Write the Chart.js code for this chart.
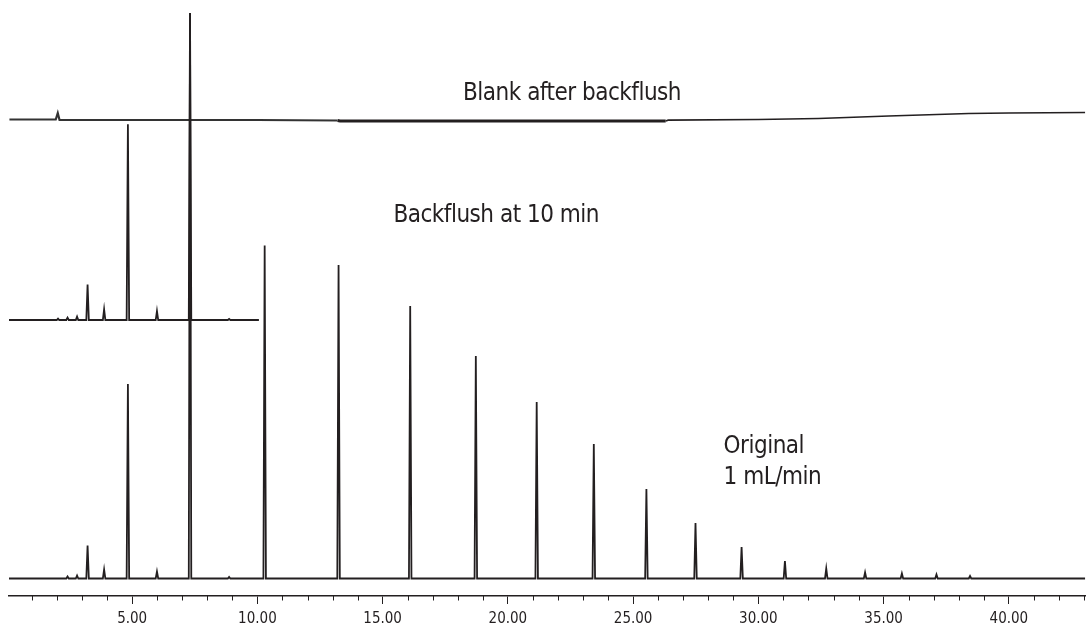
<!DOCTYPE html>
<html>
<head>
<meta charset="utf-8">
<script src="https://cdn.jsdelivr.net/npm/chart.js@4.4.1/dist/chart.umd.min.js"></script>
<style>
  html, body { margin: 0; padding: 0; background: #ffffff; }
  #wrap { position: relative; width: 1090px; height: 629px; }
</style>
</head>
<body>
<div id="wrap"><canvas id="c"></canvas></div>
<script>
// ---- Data (retention time in min, peak height in detector units) ----
const originalTimes   = [2.42, 2.80, 3.22, 3.88, 4.83, 5.99, 7.31, 8.87, 10.29, 13.24, 16.10, 18.72, 21.15, 23.43, 25.53, 27.49, 29.33, 31.06, 32.71, 34.26, 35.73, 37.11, 38.45];
const originalHeights = [2, 3, 33, 9, 194.5, 7, 565.5, 1.5, 333, 313.5, 272.5, 222.5, 176.5, 134.5, 89.5, 55.5, 31.5, 17.5, 10, 6, 5, 4, 2.5];

const backflushTimes   = [2.04, 2.42, 2.80, 3.22, 3.88, 4.83, 5.99, 7.31, 8.87];
const backflushHeights = [1.4, 2.4, 3.4, 35.5, 10.7, 195.7, 9, 307, 1];
const backflushEnd = 10.06;

const blankTimes  = [0.10, 1.95, 2.03, 2.10, 5.0, 10.0, 13.2, 13.3, 26.3, 26.4, 30.0, 32.4, 35.2, 38.4, 40.0, 43.05];
const blankValues = [1.5, 1.5, 8, 1, 1, 1, 0.5, 0, 0, 0.8, 1.5, 2.5, 5, 7.5, 8, 8.5];

// vertical offsets of the stacked traces
const backflushOffset = 258.5;
const blankOffset = 457.5;

// axis
const xMin = 0.083, xMax = 43.05;
const majorTicks = [5, 10, 15, 20, 25, 30, 35, 40];

const traceLabels = [
  { text: 'Blank after backflush', t: 18.21, v: 478.5 },
  { text: 'Backflush at 10 min',   t: 15.43, v: 356.8 },
  { text: 'Original',              t: 28.61, v: 125.8 },
  { text: '1 mL/min',              t: 28.61, v: 95.0 }
];

// ---- build traces from peak tables ----
const HW = 0.05; // half width of a peak (min)
function buildTrace(times, heights, start, end, offset) {
  const pts = [{ x: start, y: offset }];
  for (let i = 0; i < times.length; i++) {
    pts.push({ x: times[i] - HW, y: offset });
    pts.push({ x: times[i], y: offset + heights[i] });
    pts.push({ x: times[i] + HW, y: offset });
  }
  pts.push({ x: end, y: offset });
  return pts;
}
const originalData  = buildTrace(originalTimes, originalHeights, xMin, xMax, 0);
const backflushData = buildTrace(backflushTimes, backflushHeights, xMin, backflushEnd, backflushOffset);
const blankData = blankTimes.map((t, i) => ({ x: t, y: blankOffset + blankValues[i] }));

const INK = '#231f20';
const FONT = "'Liberation Sans Narrow', 'DejaVu Sans Condensed', 'Roboto', sans-serif";

const extrasPlugin = {
  id: 'extras',
  afterDraw(chart) {
    const ctx = chart.ctx;
    const xs = chart.scales.x, ys = chart.scales.y;
    const yAxis = chart.chartArea.bottom;
    // minor ticks (every minute)
    ctx.save();
    ctx.strokeStyle = INK;
    ctx.lineWidth = 1;
    for (const tk of xs.ticks) {
      if (majorTicks.includes(tk.value)) continue;
      const px = Math.round(xs.getPixelForValue(tk.value)) + 0.5;
      ctx.beginPath();
      ctx.moveTo(px, yAxis);
      ctx.lineTo(px, yAxis + 4.5);
      ctx.stroke();
    }
    // trace labels
    ctx.fillStyle = INK;
    ctx.font = '24px ' + FONT;
    if ('letterSpacing' in ctx) ctx.letterSpacing = '-0.5px';
    ctx.textBaseline = 'alphabetic';
    ctx.textAlign = 'left';
    for (const l of traceLabels) {
      ctx.fillText(l.text, xs.getPixelForValue(l.t), ys.getPixelForValue(l.v));
    }
    ctx.restore();
  }
};

new Chart(document.getElementById('c'), {
  type: 'line',
  data: {
    datasets: [
      { label: 'Original 1 mL/min', data: originalData, borderColor: INK, borderWidth: 1.8 },
      { label: 'Backflush at 10 min', data: backflushData, borderColor: INK, borderWidth: 1.8 },
      { label: 'Blank after backflush', data: blankData, borderColor: INK, borderWidth: 2,
        segment: {
          borderWidth: c => (c.p0.parsed.x >= 13.2 && c.p0.parsed.x < 26.3) ? 3 : (c.p0.parsed.x < 13.2 ? 2.2 : 1.7),
          borderColor: c => (c.p0.parsed.x < 13.2) ? '#333333' : INK
        } }
    ]
  },
  options: {
    responsive: true,
    maintainAspectRatio: false,
    animation: false,
    events: [],
    layout: { padding: { left: 9, right: 0, top: 0, bottom: 0 } },
    elements: {
      point: { radius: 0 },
      line: { tension: 0, borderJoinStyle: 'miter', borderCapStyle: 'butt' }
    },
    plugins: { legend: { display: false }, tooltip: { enabled: false }, title: { display: false } },
    scales: {
      x: {
        type: 'linear',
        min: xMin,
        max: xMax,
        afterFit: s => { s.height = 33; },
        border: { display: true, color: INK, width: 1.5 },
        grid: {
          display: true,
          drawOnChartArea: false,
          drawTicks: true,
          tickLength: 8,
          tickWidth: 1,
          tickColor: c => (c.tick && majorTicks.includes(c.tick.value)) ? INK : 'rgba(0,0,0,0)'
        },
        ticks: {
          stepSize: 1,
          includeBounds: false,
          autoSkip: false,
          maxRotation: 0,
          padding: 6,
          color: INK,
          font: { family: FONT, size: 15 },
          callback: v => majorTicks.includes(v) ? v.toFixed(2) : ''
        }
      },
      y: {
        type: 'linear',
        display: false,
        min: -17.5,
        max: 578.5
      }
    }
  },
  plugins: [extrasPlugin]
});
</script>
</body>
</html>
